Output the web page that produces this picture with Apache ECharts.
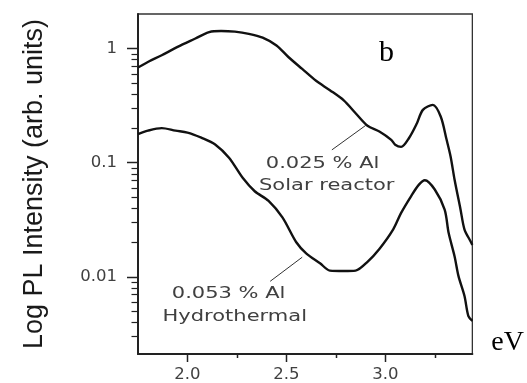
<!DOCTYPE html>
<html><head><meta charset="utf-8">
<script src="https://cdn.jsdelivr.net/npm/echarts@6/dist/echarts.min.js"></script>
<style>html,body{margin:0;padding:0;background:#fff}#c{width:527px;height:383px}</style>
</head><body><div id="c"></div>
<script>
// ---- data ----
const solarEnergy = [1.75, 1.80, 1.87, 1.95, 2.04, 2.11, 2.17, 2.24, 2.31, 2.38, 2.45, 2.51, 2.58, 2.65, 2.72, 2.79, 2.85, 2.91, 2.97, 3.03, 3.05, 3.08, 3.12, 3.16, 3.19, 3.24, 3.28, 3.31, 3.33, 3.35, 3.38, 3.40, 3.43, 3.44];
const solarIntensity = [0.68, 0.76, 0.87, 1.03, 1.22, 1.39, 1.42, 1.40, 1.34, 1.24, 1.06, 0.84, 0.66, 0.52, 0.43, 0.35, 0.27, 0.21, 0.187, 0.158, 0.143, 0.137, 0.164, 0.221, 0.289, 0.32, 0.253, 0.158, 0.113, 0.071, 0.039, 0.026, 0.0205, 0.019];
const hydroEnergy = [1.75, 1.80, 1.87, 1.94, 2.00, 2.07, 2.14, 2.21, 2.28, 2.34, 2.41, 2.48, 2.55, 2.60, 2.67, 2.72, 2.79, 2.85, 2.91, 2.97, 3.04, 3.08, 3.13, 3.17, 3.20, 3.25, 3.30, 3.32, 3.35, 3.37, 3.40, 3.42, 3.44];
const hydroIntensity = [0.177, 0.19, 0.20, 0.19, 0.183, 0.165, 0.144, 0.11, 0.073, 0.056, 0.046, 0.033, 0.020, 0.016, 0.0131, 0.0113, 0.0112, 0.0113, 0.0135, 0.0175, 0.026, 0.0362, 0.0506, 0.064, 0.070, 0.058, 0.0387, 0.0242, 0.0151, 0.0101, 0.0068, 0.0045, 0.0041];
const xTickLabels = [2.0, 2.5, 3.0];
const xMinorTicks = [2.25, 2.75, 3.25];
const yTickLabels = [0.01, 0.1, 1];
const yMinorTicks = [0.003, 0.004, 0.005, 0.006, 0.007, 0.008, 0.009, 0.02, 0.03, 0.04, 0.05, 0.06, 0.07, 0.08, 0.09, 0.2, 0.3, 0.4, 0.5, 0.6, 0.7, 0.8, 0.9];
const yTitle = 'Log PL Intensity (arb. units)';
const xUnit = 'eV';
const panelLabel = 'b';
const annotationTexts = ['0.025 % Al', 'Solar reactor', '0.053 % Al', 'Hydrothermal'];

// ---- chart ----
const X_MIN = 1.75, X_MAX = 3.44, Y_MIN = 0.0021, Y_MAX = 2;
const zip = (a, b) => a.map((v, i) => [v, b[i]]);
const chart = echarts.init(document.getElementById('c'), null, { renderer: 'canvas' });
const axisColor = '#222';
const labelFont = { fontFamily: 'DejaVu Sans', fontSize: 16.5, color: '#404040' };
const arrowLine = (from, to) => [{ coord: from }, { coord: to }];

chart.setOption({
  animation: false,
  backgroundColor: '#fff',
  title: {
    text: panelLabel, left: 374, top: 33,
    textStyle: { fontFamily: 'Liberation Serif', fontSize: 30, fontWeight: 'normal', color: '#000' }
  },
  grid: { left: 138, right: 54, top: 14, bottom: 28, show: true, borderColor: '#333', borderWidth: 1.3, backgroundColor: 'transparent' },
  xAxis: {
    type: 'value', min: X_MIN, max: X_MAX, position: 'bottom',
    name: xUnit, nameLocation: 'end', nameGap: 19,
    nameTextStyle: { fontFamily: 'Liberation Serif', fontSize: 28, color: '#000', verticalAlign: 'bottom', lineHeight: 22 },
    axisLine: { show: true, onZero: false, lineStyle: { color: axisColor, width: 2 } },
    axisTick: { show: false },
    axisLabel: { show: true, customValues: xTickLabels, margin: 12, formatter: v => Number(v).toFixed(1), ...labelFont },
    splitLine: { show: false }
  },
  yAxis: {
    type: 'log', logBase: 10, min: Y_MIN, max: Y_MAX, position: 'left',
    name: yTitle, nameLocation: 'middle', nameGap: 90, nameRotate: 90,
    nameTextStyle: { fontFamily: 'Liberation Sans', fontSize: 27, color: '#1a1a1a' },
    axisLine: { show: true, lineStyle: { color: axisColor, width: 2 } },
    axisTick: { show: false },
    axisLabel: {
      show: true, customValues: yTickLabels, margin: 21,
      formatter: v => String(yTickLabels.reduce((b, t) => Math.abs(Math.log10(t) - Math.log10(v)) < Math.abs(Math.log10(b) - Math.log10(v)) ? t : b)),
      ...labelFont
    },
    splitLine: { show: false }
  },
  series: [{
    name: '0.025 % Al Solar reactor', type: 'line',
    data: zip(solarEnergy, solarIntensity), showSymbol: false, smooth: 0.3,
    lineStyle: { color: '#111', width: 2.4 },
    markLine: {
      silent: true, symbol: ['none', 'arrow'], symbolSize: [0, 7], label: { show: false },
      lineStyle: { color: '#333', width: 1, type: 'solid' },
      data: [arrowLine([2.73, 0.129], [2.902, 0.212])]
    }
  }, {
    name: '0.053 % Al Hydrothermal', type: 'line',
    data: zip(hydroEnergy, hydroIntensity), showSymbol: false, smooth: 0.3,
    lineStyle: { color: '#111', width: 2.4 },
    markLine: {
      silent: true, symbol: ['none', 'arrow'], symbolSize: [0, 7], label: { show: false },
      lineStyle: { color: '#333', width: 1, type: 'solid' },
      data: [arrowLine([2.418, 0.0091], [2.58, 0.0148])]
    }
  }]
});

// ---- ticks and annotations, positioned through the chart's own scales ----
const px = v => chart.convertToPixel({ xAxisIndex: 0 }, v);
const py = v => chart.convertToPixel({ yAxisIndex: 0 }, v);
const axisX = px(X_MIN), axisY = py(Y_MIN);
const tick = (x1, y1, x2, y2, w) => ({
  type: 'line', silent: true, z: 10,
  shape: { x1, y1, x2, y2 }, style: { stroke: axisColor, lineWidth: w }
});
const graphics = [];
yTickLabels.forEach(t => { const y = Math.round(py(t)) + 0.5; graphics.push(tick(axisX - 11, y, axisX, y, 1.5)); });
yMinorTicks.forEach(t => { const y = Math.round(py(t)) + 0.5; graphics.push(tick(axisX - 6.5, y, axisX, y, 1.2)); });
xTickLabels.forEach(t => { const x = Math.round(px(t)) + 0.5; graphics.push(tick(x, axisY, x, axisY + 8, 1.5)); });
xMinorTicks.forEach(t => { const x = Math.round(px(t)) + 0.5; graphics.push(tick(x, axisY, x, axisY + 4, 1.5)); });

const annoAnchors = [[2.683, 0.0966], [2.704, 0.0621], [2.208, 0.0070], [2.239, 0.00441]];
annotationTexts.forEach((t, i) => {
  const p = chart.convertToPixel({ xAxisIndex: 0, yAxisIndex: 0 }, annoAnchors[i]);
  graphics.push({
    type: 'text', x: p[0], y: p[1], scaleX: 1.4, silent: true,
    style: { text: t, x: 0, y: 0, align: 'center', verticalAlign: 'middle',
             font: '15px "DejaVu Sans"', fill: '#404040' }
  });
});
chart.setOption({ graphic: graphics });
</script>
</body></html>
